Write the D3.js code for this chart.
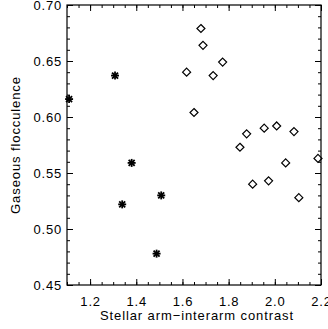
<!DOCTYPE html>
<html>
<head>
<meta charset="utf-8">
<script src="https://cdn.jsdelivr.net/npm/d3@7"></script>
<style>
  body { margin: 0; background: #fff; }
  svg text { font-family: "Liberation Sans", Arial, sans-serif; fill: #000; }
</style>
</head>
<body>
<div id="chart"></div>
<script>
// asterisk points (stellar contrast, gaseous flocculence)
const starX = [1.109, 1.308, 1.380, 1.339, 1.508, 1.488];
const starY = [0.616, 0.637, 0.559, 0.522, 0.530, 0.478];
// diamond points
const diamX = [1.680, 1.689, 1.774, 1.618, 1.733, 1.650, 1.849, 1.878, 1.954, 2.008,
               2.083, 2.047, 2.187, 1.904, 1.973, 2.104];
const diamY = [0.679, 0.664, 0.649, 0.640, 0.637, 0.604, 0.573, 0.585, 0.590, 0.592,
               0.587, 0.559, 0.563, 0.540, 0.543, 0.528];

const xTicks = [1.2, 1.4, 1.6, 1.8, 2.0, 2.2];
const yTicks = [0.45, 0.50, 0.55, 0.60, 0.65, 0.70];

const W = 328, H = 329;
const margin = {left: 67, right: 7, top: 5, bottom: 44};

const svg = d3.select("#chart").append("svg")
    .attr("width", W)
    .attr("height", H);

const x = d3.scaleLinear().domain([1.1, 2.2]).range([margin.left, W - margin.right]);
const y = d3.scaleLinear().domain([0.45, 0.70]).range([H - margin.bottom, margin.top]);

const minorX = d3.range(1.1, 2.2001, 0.05).map(v => +v.toFixed(2));
const minorY = d3.range(0.45, 0.7001, 0.01).map(v => +v.toFixed(2));

// frame
svg.append("rect")
    .attr("x", x(1.1)).attr("y", y(0.70))
    .attr("width", x(2.2) - x(1.1)).attr("height", y(0.45) - y(0.70))
    .attr("fill", "none").attr("stroke", "#000").attr("stroke-width", 1.2);

// axis helper: draw ticks, hide the domain path
function tickAxis(axis, tx, ty) {
    const g = svg.append("g").attr("transform", `translate(${tx},${ty})`).call(axis);
    g.select(".domain").attr("stroke", "none");
    g.selectAll(".tick line").attr("stroke", "#000").attr("stroke-width", 1);
    return g;
}
const noLabel = () => "";

// minor ticks on all four sides
tickAxis(d3.axisTop(x).tickValues(minorX).tickSize(3).tickFormat(noLabel), 0, y(0.45));
tickAxis(d3.axisBottom(x).tickValues(minorX).tickSize(3).tickFormat(noLabel), 0, y(0.70));
tickAxis(d3.axisRight(y).tickValues(minorY).tickSize(3).tickFormat(noLabel), x(1.1), 0);
tickAxis(d3.axisLeft(y).tickValues(minorY).tickSize(3).tickFormat(noLabel), x(2.2), 0);

// major ticks
tickAxis(d3.axisBottom(x).tickValues(xTicks).tickSize(6).tickFormat(noLabel), 0, y(0.70));
tickAxis(d3.axisLeft(y).tickValues(yTicks).tickSize(6).tickFormat(noLabel), x(2.2), 0);
tickAxis(d3.axisTop(x).tickValues(xTicks).tickSize(6).tickFormat(d3.format(".1f")), 0, y(0.45))
    .selectAll("text").attr("y", 12).attr("dy", "0.71em")
    .style("font-size", "13px").style("letter-spacing", "0.8px");
tickAxis(d3.axisRight(y).tickValues(yTicks).tickSize(6).tickFormat(d3.format(".2f")), x(1.1), 0)
    .selectAll("text").attr("x", -5).attr("text-anchor", "end")
    .style("font-size", "13px").style("letter-spacing", "0.8px");

// axis titles
svg.append("text")
    .attr("x", (x(1.1) + x(2.2)) / 2 + 3)
    .attr("y", 320)
    .attr("text-anchor", "middle")
    .style("font-size", "13px").style("letter-spacing", "0.9px")
    .text("Stellar arm\u2212interarm contrast");

svg.append("text")
    .attr("transform", `translate(20,${(y(0.45) + y(0.70)) / 2}) rotate(-90)`)
    .attr("text-anchor", "middle")
    .style("font-size", "13px").style("letter-spacing", "0.9px")
    .text("Gaseous flocculence");

// points
const stars = d3.zip(starX, starY);
const diams = d3.zip(diamX, diamY);

const star = svg.append("g").selectAll("g").data(stars).join("g")
    .attr("transform", d => `translate(${x(d[0])},${y(d[1])})`);
[[0, 4, 0, -4], [-4, 0, 4, 0], [-3, -3, 3, 3], [-3, 3, 3, -3]].forEach(s => {
    star.append("line")
        .attr("x1", s[0]).attr("y1", s[1]).attr("x2", s[2]).attr("y2", s[3])
        .attr("stroke", "#000").attr("stroke-width", 1.8);
});

svg.append("g").selectAll("path").data(diams).join("path")
    .attr("transform", d => `translate(${x(d[0])},${y(d[1])})`)
    .attr("d", "M0,-4L4,0L0,4L-4,0Z")
    .attr("fill", "none")
    .attr("stroke", "#000")
    .attr("stroke-width", 1.2);
</script>
</body>
</html>
